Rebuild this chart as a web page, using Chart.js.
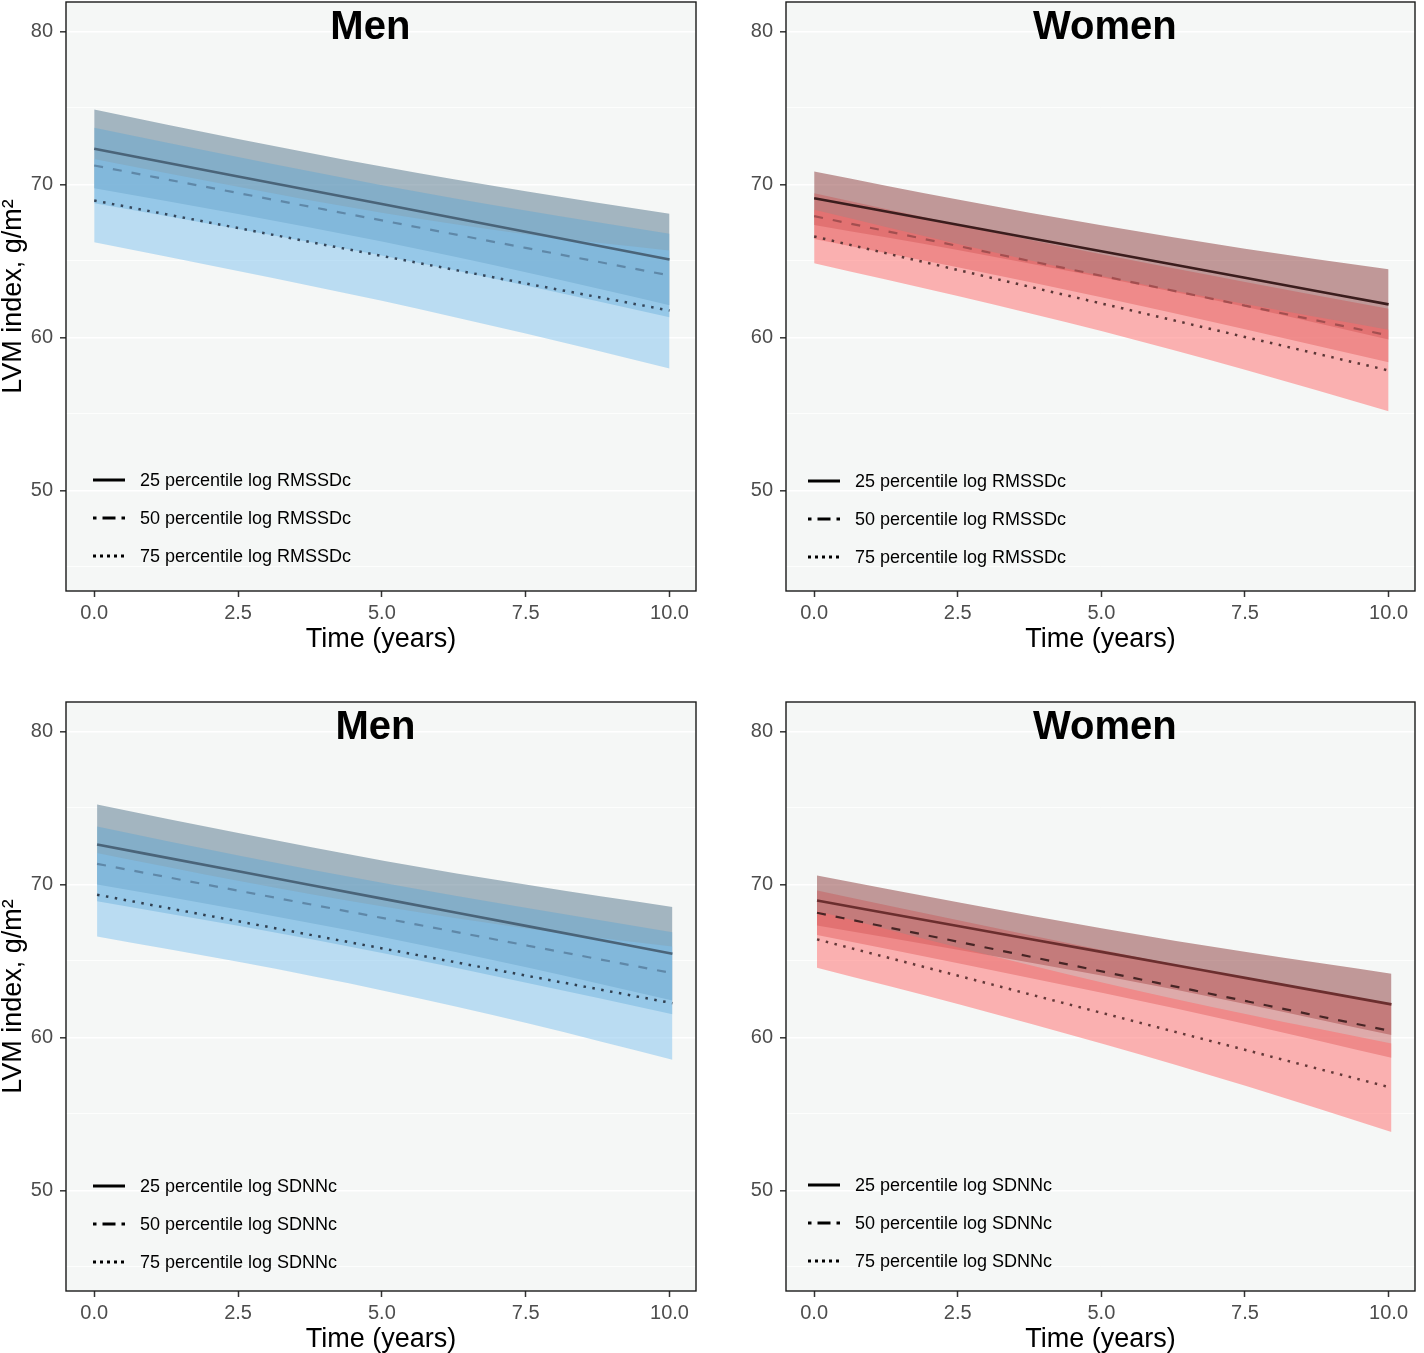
<!DOCTYPE html>
<html><head><meta charset="utf-8">
<script src="https://cdn.jsdelivr.net/npm/chart.js@4.4.1/dist/chart.umd.min.js"></script>
<style>
html,body{margin:0;padding:0;background:#fff;}
body{width:1424px;height:1353px;position:relative;overflow:hidden;}
canvas{position:absolute;}
</style></head><body>
<canvas id="c1" width="712" height="653" style="left:0;top:0"></canvas>
<canvas id="c2" width="712" height="653" style="left:712px;top:0"></canvas>
<canvas id="c3" width="712" height="653" style="left:0;top:700px"></canvas>
<canvas id="c4" width="712" height="653" style="left:712px;top:700px"></canvas>
<script>
// ---------- data ----------
const xTicks = [0, 2.5, 5, 7.5, 10];
const xTickLabels = ['0.0', '2.5', '5.0', '7.5', '10.0'];
const yGridValues = [45, 50, 55, 60, 65, 70, 75, 80];
const yTickValues = [50, 60, 70, 80];

const timeTop = [0, 2.5, 5, 7.5, 10];
const timeBottom = [0.05, 2.55, 5.05, 7.55, 10.05];

const legendRMSSD = ['25 percentile log RMSSDc', '50 percentile log RMSSDc', '75 percentile log RMSSDc'];
const legendSDNN = ['25 percentile log SDNNc', '50 percentile log SDNNc', '75 percentile log SDNNc'];

// Men, RMSSDc
const menR_p25 = [72.33, 70.52, 68.72, 66.91, 65.10];
const menR_p25_hi = [74.90, 72.97, 71.17, 69.56, 68.09];
const menR_p25_lo = [69.76, 68.07, 66.27, 64.26, 62.11];
const menR_p50 = [71.24, 69.44, 67.65, 65.85, 64.05];
const menR_p50_hi = [73.71, 71.79, 69.95, 68.30, 66.78];
const menR_p50_lo = [68.77, 67.09, 65.35, 63.40, 61.32];
const menR_p75 = [68.95, 67.15, 65.33, 63.53, 61.76];
const menR_p75_hi = [71.67, 69.85, 68.15, 66.75, 65.69];
const menR_p75_lo = [66.23, 64.35, 62.40, 60.25, 57.97];

// Women, RMSSDc
const womR_p25 = [69.10, 67.37, 65.63, 63.90, 62.16];
const womR_p25_hi = [70.85, 69.02, 67.33, 65.80, 64.46];
const womR_p25_lo = [67.35, 65.72, 63.93, 62.00, 59.86];
const womR_p50 = [67.93, 65.98, 64.03, 62.08, 60.13];
const womR_p50_hi = [69.43, 67.38, 65.43, 63.63, 61.88];
const womR_p50_lo = [66.43, 64.58, 62.63, 60.53, 58.38];
const womR_p75 = [66.60, 64.41, 62.22, 60.03, 57.84];
const womR_p75_hi = [68.35, 66.11, 64.02, 62.18, 60.50];
const womR_p75_lo = [64.85, 62.71, 60.42, 57.88, 55.18];

// Men, SDNNc
const menS_p25 = [72.61, 70.83, 69.04, 67.26, 65.47];
const menS_p25_hi = [75.23, 73.33, 71.54, 69.96, 68.52];
const menS_p25_lo = [69.99, 68.33, 66.54, 64.56, 62.42];
const menS_p50 = [71.35, 69.56, 67.78, 65.99, 64.20];
const menS_p50_hi = [73.79, 71.86, 70.08, 68.44, 66.88];
const menS_p50_lo = [68.91, 67.26, 65.48, 63.54, 61.52];
const menS_p75 = [69.33, 67.56, 65.79, 64.01, 62.24];
const menS_p75_hi = [72.06, 70.21, 68.54, 67.11, 65.94];
const menS_p75_lo = [66.60, 64.91, 63.04, 60.91, 58.54];

// Women, SDNNc
const womS_p25 = [68.95, 67.25, 65.56, 63.86, 62.16];
const womS_p25_hi = [70.59, 68.80, 67.11, 65.56, 64.16];
const womS_p25_lo = [67.31, 65.70, 64.01, 62.16, 60.16];
const womS_p50 = [68.15, 66.22, 64.28, 62.35, 60.41];
const womS_p50_hi = [69.61, 67.62, 65.68, 63.85, 62.15];
const womS_p50_lo = [66.69, 64.82, 62.88, 60.85, 58.67];
const womS_p75 = [66.41, 63.99, 61.56, 59.14, 56.71];
const womS_p75_hi = [68.26, 65.84, 63.56, 61.49, 59.61];
const womS_p75_lo = [64.56, 62.14, 59.56, 56.79, 53.81];

// ---------- drawing ----------
const FONT = "'Liberation Sans', Arial, Helvetica, sans-serif";
const BG = '#f5f7f6';
const menFills = ['rgba(81,115,138,0.5)', 'rgba(101,167,208,0.5)', 'rgba(127,193,238,0.5)'];
const womFills = ['rgba(139,57,58,0.5)', 'rgba(199,93,94,0.5)', 'rgba(255,105,106,0.5)'];
const dashes = [[], [9, 10], [2.5, 6.5]];
const widths = [2.6, 2.2, 2.5];

function pts(xs, ys) { return xs.map((x, i) => ({x: x, y: ys[i]})); }

function makePanel(id, cfg) {
  const ds = [];
  cfg.lines.forEach((ys, k) => {
    ds.push({data: pts(cfg.time, ys), borderColor: cfg.lineColors[k], borderWidth: widths[k],
      borderDash: dashes[k], borderCapStyle: 'butt', pointRadius: 0, fill: false, order: 0,
      cubicInterpolationMode: 'monotone'});
  });
  // higher order is drawn first: 25th-percentile ribbon at the bottom, then 50th, then 75th
  [0, 1, 2].forEach(k => {
    ds.push({data: pts(cfg.time, cfg.hi[k]), borderWidth: 0, pointRadius: 0, fill: '+1',
      backgroundColor: cfg.fills[k], order: 3 - k, cubicInterpolationMode: 'monotone'});
    ds.push({data: pts(cfg.time, cfg.lo[k]), borderWidth: 0, pointRadius: 0, fill: false,
      order: 3 - k, cubicInterpolationMode: 'monotone'});
  });

  const panelPlugin = {
    id: 'panel' + id,
    beforeDraw(chart) {
      const a = chart.chartArea, c = chart.ctx;
      c.save(); c.fillStyle = BG; c.fillRect(a.left, a.top, a.right - a.left, a.bottom - a.top); c.restore();
    },
    afterDraw(chart) {
      const a = chart.chartArea, c = chart.ctx;
      c.save();
      c.strokeStyle = '#1a1a1a'; c.lineWidth = 1.4;
      c.strokeRect(a.left, a.top, a.right - a.left, a.bottom - a.top);
      c.fillStyle = '#000';
      c.font = 'bold 40px ' + FONT;
      c.textAlign = 'center'; c.textBaseline = 'alphabetic';
      c.fillText(cfg.title, chart.scales.x.getPixelForValue(cfg.titleX), a.top + 37);
      c.font = '18px ' + FONT;
      c.textAlign = 'left'; c.textBaseline = 'middle';
      cfg.legend.forEach((txt, k) => {
        const y = a.top + cfg.legendTop + k * 38;
        const x0 = a.left + cfg.legendX;
        c.strokeStyle = '#000'; c.lineWidth = 3; c.lineCap = 'butt';
        if (k === 0) { c.setLineDash([]); c.lineDashOffset = 0; }
        else if (k === 1) { c.setLineDash([13, 6]); c.lineDashOffset = 9.5; }
        else { c.setLineDash([3, 4]); c.lineDashOffset = 0; }
        c.beginPath(); c.moveTo(x0, y); c.lineTo(x0 + 32, y); c.stroke();
        c.setLineDash([]);
        c.fillStyle = '#000';
        c.fillText(txt, x0 + 47, y + 1);
      });
      c.restore();
    }
  };

  new Chart(document.getElementById(id), {
    type: 'line',
    data: {datasets: ds},
    options: {
      responsive: false, animation: false,
      layout: {padding: {top: 2, right: cfg.padRight, left: 0, bottom: 0}},
      plugins: {legend: {display: false}, tooltip: {enabled: false}},
      scales: {
        x: {
          type: 'linear', min: -0.49, max: 10.46,
          afterBuildTicks: s => { s.ticks = xTicks.map(v => ({value: v})); },
          afterFit: s => { s.height = 62; s.paddingLeft = 0; s.paddingRight = 0; },
          ticks: {callback: (v, i) => xTickLabels[i], autoSkip: false, maxRotation: 0, minRotation: 0,
            color: '#4d4d4d', font: {family: FONT, size: 20}, padding: 4},
          grid: {drawOnChartArea: false, color: 'rgba(0,0,0,0)', tickColor: '#333', tickLength: 6, tickWidth: 1.5},
          border: {display: false},
          title: {display: true, text: 'Time (years)', color: '#000',
            font: {family: FONT, size: 27, lineHeight: 1}, padding: {top: 0, bottom: 0}}
        },
        y: {
          type: 'linear', min: 43.42, max: 81.93,
          afterBuildTicks: s => { s.ticks = yGridValues.map(v => ({value: v})); },
          afterFit: s => { s.width = cfg.yWidth; s.paddingTop = 0; s.paddingBottom = 0; },
          ticks: {callback: v => yTickValues.includes(v) ? String(v) : '', autoSkip: false,
            color: '#4d4d4d', font: {family: FONT, size: 20}, padding: 7},
          grid: {
            color: '#ffffff',
            lineWidth: ctx => (ctx.tick && yTickValues.includes(ctx.tick.value)) ? 1.6 : 0.8,
            tickColor: ctx => (ctx.tick && yTickValues.includes(ctx.tick.value)) ? '#333' : 'rgba(0,0,0,0)',
            tickLength: 6, tickWidth: 1.5
          },
          border: {display: false},
          title: {display: cfg.yTitle, text: 'LVM index, g/m²', color: '#000',
            font: {family: FONT, size: 27, lineHeight: 1}, padding: 0}
        }
      }
    },
    plugins: [panelPlugin]
  });
}

makePanel('c1', {
  time: timeTop, title: 'Men', titleX: 4.8, legend: legendRMSSD, legendTop: 478, legendX: 27,
  yTitle: true, yWidth: 66, padRight: 16, fills: menFills,
  lineColors: ['#4a6479', '#5f88a8', '#34465a'],
  lines: [menR_p25, menR_p50, menR_p75],
  hi: [menR_p25_hi, menR_p50_hi, menR_p75_hi],
  lo: [menR_p25_lo, menR_p50_lo, menR_p75_lo]
});
makePanel('c2', {
  time: timeTop, title: 'Women', titleX: 5.06, legend: legendRMSSD, legendTop: 479, legendX: 22,
  yTitle: false, yWidth: 74, padRight: 9, fills: womFills,
  lineColors: ['#3b1d1d', '#a34f50', '#5b3636'],
  lines: [womR_p25, womR_p50, womR_p75],
  hi: [womR_p25_hi, womR_p50_hi, womR_p75_hi],
  lo: [womR_p25_lo, womR_p50_lo, womR_p75_lo]
});
makePanel('c3', {
  time: timeBottom, title: 'Men', titleX: 4.89, legend: legendSDNN, legendTop: 484, legendX: 27,
  yTitle: true, yWidth: 66, padRight: 16, fills: menFills,
  lineColors: ['#4a6479', '#5f88a8', '#2f3f50'],
  lines: [menS_p25, menS_p50, menS_p75],
  hi: [menS_p25_hi, menS_p50_hi, menS_p75_hi],
  lo: [menS_p25_lo, menS_p50_lo, menS_p75_lo]
});
makePanel('c4', {
  time: timeBottom, title: 'Women', titleX: 5.06, legend: legendSDNN, legendTop: 483, legendX: 22,
  yTitle: false, yWidth: 74, padRight: 9, fills: womFills,
  lineColors: ['#6b2e2e', '#472525', '#643838'],
  lines: [womS_p25, womS_p50, womS_p75],
  hi: [womS_p25_hi, womS_p50_hi, womS_p75_hi],
  lo: [womS_p25_lo, womS_p50_lo, womS_p75_lo]
});
</script>
</body></html>
